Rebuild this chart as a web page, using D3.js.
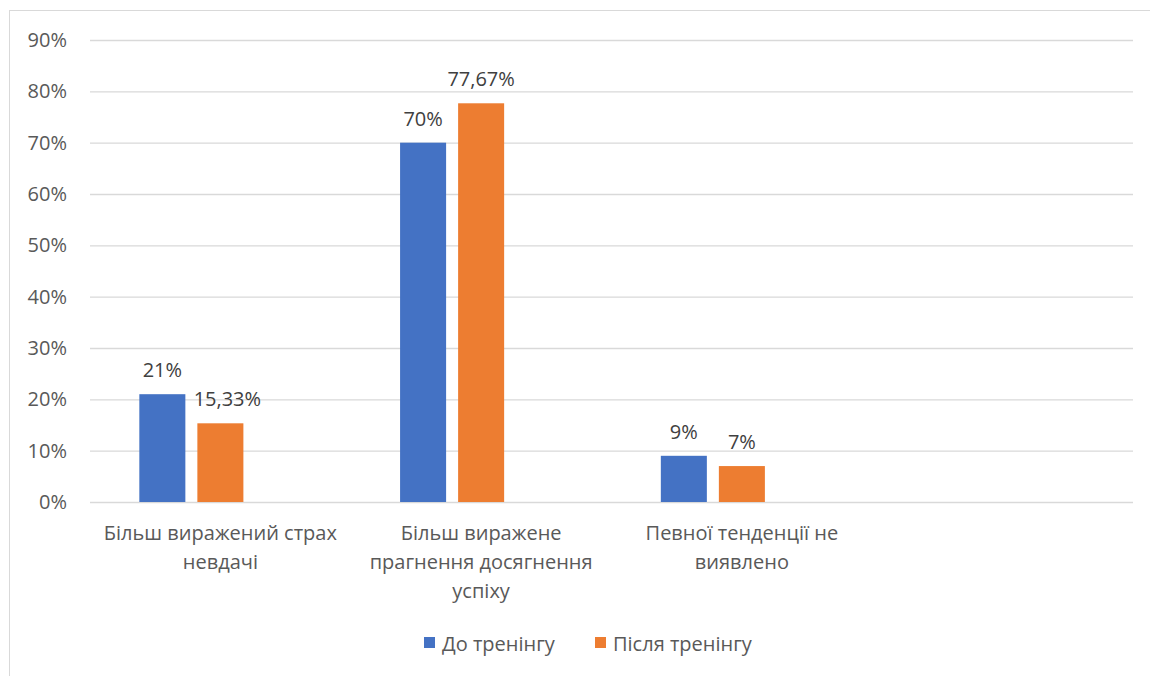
<!DOCTYPE html>
<html lang="uk">
<head>
<meta charset="utf-8">
<script src="https://cdn.jsdelivr.net/npm/d3@7"></script>
<style>
  html, body { margin: 0; padding: 0; background: #fff; }
  svg { display: block; font-family: "Open Sans", "Noto Sans", sans-serif; }
</style>
</head>
<body>
<svg id="chart" width="1150" height="676"></svg>
<script>
// Category labels (the fourth slot is an empty category kept in the axis)
const categories = [
  "Більш виражений страх невдачі",
  "Більш виражене прагнення досягнення успіху",
  "Певної тенденції не виявлено",
  ""
];
// Series names; the third slot is an unused series that still takes its room in each group
const seriesNames = ["До тренінгу", "Після тренінгу", "reserved"];
const beforeValues = [0.21, 0.70, 0.09];
const afterValues = [0.1533, 0.7767, 0.07];
const valueLabelsBefore = ["21%", "70%", "9%"];
const valueLabelsAfter = ["15,33%", "77,67%", "7%"];
const yTicks = [0, 0.1, 0.2, 0.3, 0.4, 0.5, 0.6, 0.7, 0.8, 0.9];
const colors = ["#4472C4", "#ED7D31"];

const FONT = "20px";
const svg = d3.select("#chart");

// outer chart frame
svg.append("rect")
  .attr("x", 9.5).attr("y", 10.5)
  .attr("width", 1160).attr("height", 700)
  .attr("fill", "#fff").attr("stroke", "#d9d9d9").attr("stroke-width", 1);

const plot = { left: 90, right: 1133, top: 40, bottom: 502 };

const x0 = d3.scaleBand()
  .domain(categories)
  .range([plot.left, plot.right])
  .paddingInner(0).paddingOuter(0);

const x1 = d3.scaleBand()
  .domain(seriesNames)
  .range([0, x0.bandwidth()])
  .paddingInner(12 / 58)
  .paddingOuter(0.85);

const y = d3.scaleLinear().domain([0, 0.9]).range([plot.bottom, plot.top]);

// horizontal gridlines and y-axis labels
const yAxis = d3.axisLeft(y)
  .tickValues(yTicks)
  .tickFormat(d3.format(".0%"))
  .tickSize(-(plot.right - plot.left))
  .tickPadding(23);

const gy = svg.append("g")
  .attr("transform", `translate(${plot.left},0)`)
  .call(yAxis);
gy.select(".domain").remove();
gy.selectAll(".tick line").attr("stroke", "#d9d9d9").attr("stroke-width", 1.3);
gy.selectAll(".tick text")
  .attr("fill", "#595959")
  .style("font-size", FONT)
  .style("font-family", "'Open Sans', sans-serif");

// bars
const series = [
  { name: seriesNames[0], values: beforeValues, labels: valueLabelsBefore, color: colors[0] },
  { name: seriesNames[1], values: afterValues, labels: valueLabelsAfter, color: colors[1] }
];

series.forEach((s, si) => {
  const g = svg.append("g");
  const items = s.values.map((v, i) => ({ cat: categories[i], v, label: s.labels[i] }));
  g.selectAll("rect")
    .data(items)
    .join("rect")
    .attr("x", d => x0(d.cat) + x1(s.name))
    .attr("y", d => y(d.v))
    .attr("width", x1.bandwidth())
    .attr("height", d => y(0) - y(d.v))
    .attr("fill", s.color);

  g.selectAll("text")
    .data(items)
    .join("text")
    .attr("x", (d, i) => x0(d.cat) + x1(s.name) + x1.bandwidth() / 2 + (si === 1 && i === 0 ? 7 : 0))
    .attr("y", d => y(d.v) - 17)
    .attr("text-anchor", "middle")
    .attr("fill", "#404040")
    .style("font-size", FONT)
    .text(d => d.label);
});

// category labels, wrapped to the band width
const xLabels = svg.append("g");
const maxWidth = 255;
categories.forEach(cat => {
  if (!cat) return;
  const cx = x0(cat) + x0.bandwidth() / 2;
  const t = xLabels.append("text")
    .attr("x", cx)
    .attr("y", 540)
    .attr("text-anchor", "middle")
    .attr("fill", "#595959")
    .style("font-size", FONT);
  const words = cat.split(" ");
  let line = [];
  let tspan = t.append("tspan").attr("x", cx).attr("dy", 0);
  words.forEach(w => {
    line.push(w);
    tspan.text(line.join(" "));
    if (tspan.node().getComputedTextLength() > maxWidth && line.length > 1) {
      line.pop();
      tspan.text(line.join(" "));
      line = [w];
      tspan = t.append("tspan").attr("x", cx).attr("dy", 29).text(w);
    }
  });
});

// legend
const legend = svg.append("g");
const legendItems = [
  { name: seriesNames[0], color: colors[0], x: 424 },
  { name: seriesNames[1], color: colors[1], x: 595 }
];
legendItems.forEach(li => {
  legend.append("rect")
    .attr("x", li.x).attr("y", 637)
    .attr("width", 11).attr("height", 11)
    .attr("fill", li.color);
  legend.append("text")
    .attr("x", li.x + 18).attr("y", 651)
    .attr("fill", "#595959")
    .style("font-size", FONT)
    .text(li.name);
});
</script>
</body>
</html>
